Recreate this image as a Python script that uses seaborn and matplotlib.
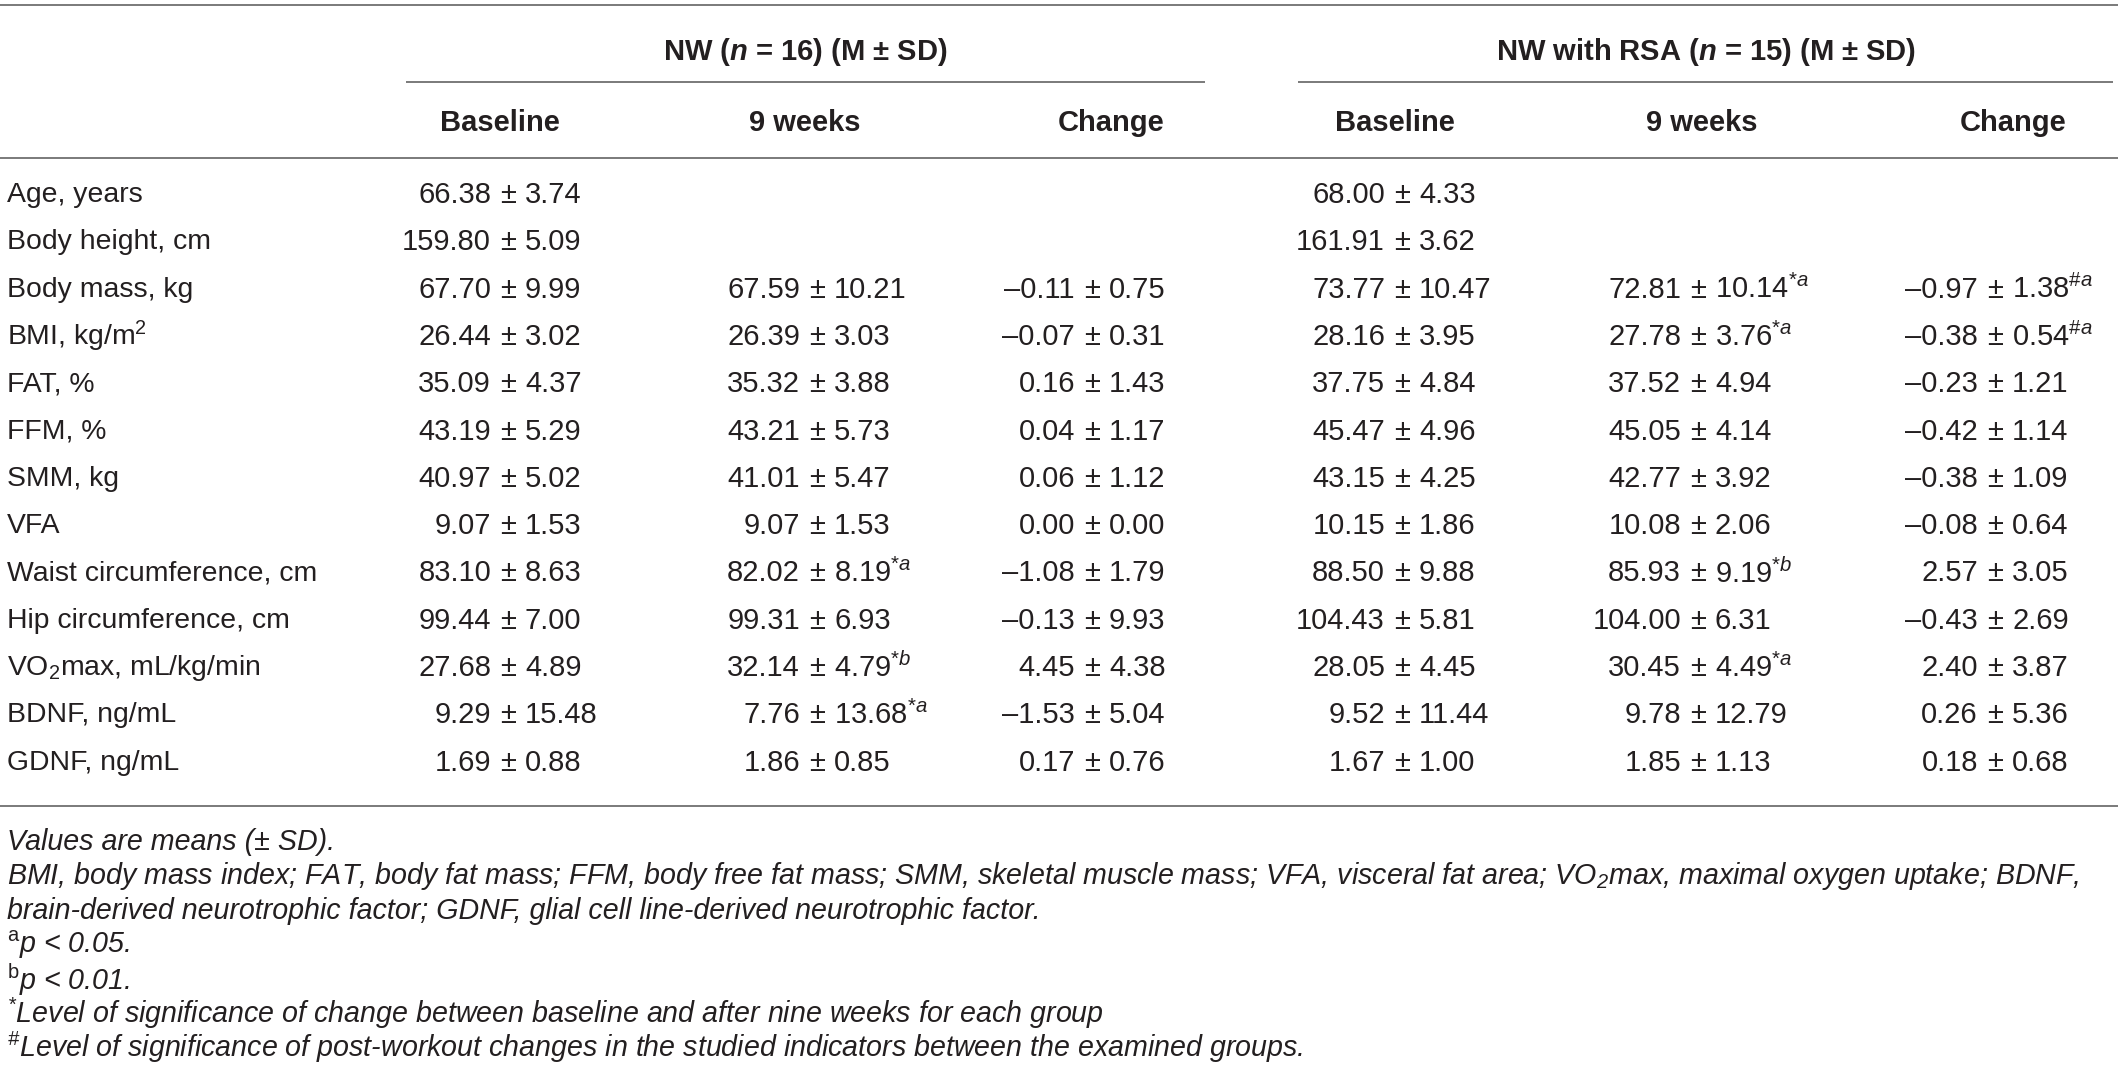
import matplotlib
matplotlib.use("Agg")
import matplotlib.pyplot as plt
import seaborn as sns

sns.set_theme(style="white")
FONT = ["Liberation Sans", "DejaVu Sans"]
plt.rcParams["font.family"] = FONT
plt.rcParams["mathtext.fontset"] = "custom"
plt.rcParams["mathtext.rm"] = "Liberation Sans"
plt.rcParams["mathtext.it"] = "Liberation Sans:italic"
plt.rcParams["mathtext.bf"] = "Liberation Sans:bold"
plt.rcParams["mathtext.bfit"] = "Liberation Sans:bold:italic"
plt.rcParams["mathtext.default"] = "regular"

# ---------------- data ----------------
row_labels = ["Age, years", "Body height, cm", "Body mass, kg", "BMI, kg/m$^{2}$",
              "FAT, %", "FFM, %", "SMM, kg", "VFA", "Waist circumference, cm",
              "Hip circumference, cm", "VO$_{2}$max, mL/kg/min", "BDNF, ng/mL",
              "GDNF, ng/mL"]

group_titles = [r"NW ($\mathbfit{n}$ = 16) (M ± SD)",
                r"NW with RSA ($\mathbfit{n}$ = 15) (M ± SD)"]
col_titles = ["Baseline", "9 weeks", "Change", "Baseline", "9 weeks", "Change"]

nw_base_m = [66.38, 159.80, 67.70, 26.44, 35.09, 43.19, 40.97, 9.07, 83.10, 99.44, 27.68, 9.29, 1.69]
nw_base_sd = [3.74, 5.09, 9.99, 3.02, 4.37, 5.29, 5.02, 1.53, 8.63, 7.00, 4.89, 15.48, 0.88]
nw_base_sig = [""] * 13

nw_9w_m = [None, None, 67.59, 26.39, 35.32, 43.21, 41.01, 9.07, 82.02, 99.31, 32.14, 7.76, 1.86]
nw_9w_sd = [None, None, 10.21, 3.03, 3.88, 5.73, 5.47, 1.53, 8.19, 6.93, 4.79, 13.68, 0.85]
nw_9w_sig = ["", "", "", "", "", "", "", "", "*a", "", "*b", "*a", ""]

nw_chg_m = [None, None, -0.11, -0.07, 0.16, 0.04, 0.06, 0.00, -1.08, -0.13, 4.45, -1.53, 0.17]
nw_chg_sd = [None, None, 0.75, 0.31, 1.43, 1.17, 1.12, 0.00, 1.79, 9.93, 4.38, 5.04, 0.76]
nw_chg_sig = [""] * 13

rsa_base_m = [68.00, 161.91, 73.77, 28.16, 37.75, 45.47, 43.15, 10.15, 88.50, 104.43, 28.05, 9.52, 1.67]
rsa_base_sd = [4.33, 3.62, 10.47, 3.95, 4.84, 4.96, 4.25, 1.86, 9.88, 5.81, 4.45, 11.44, 1.00]
rsa_base_sig = [""] * 13

rsa_9w_m = [None, None, 72.81, 27.78, 37.52, 45.05, 42.77, 10.08, 85.93, 104.00, 30.45, 9.78, 1.85]
rsa_9w_sd = [None, None, 10.14, 3.76, 4.94, 4.14, 3.92, 2.06, 9.19, 6.31, 4.49, 12.79, 1.13]
rsa_9w_sig = ["", "", "*a", "*a", "", "", "", "", "*b", "", "*a", "", ""]

rsa_chg_m = [None, None, -0.97, -0.38, -0.23, -0.42, -0.38, -0.08, 2.57, -0.43, 2.40, 0.26, 0.18]
rsa_chg_sd = [None, None, 1.38, 0.54, 1.21, 1.14, 1.09, 0.64, 3.05, 2.69, 3.87, 5.36, 0.68]
rsa_chg_sig = ["", "", "#a", "#a", "", "", "", "", "", "", "", "", ""]

footnotes = [
    "Values are means (± SD).",
    "BMI, body mass index; FAT, body fat mass; FFM, body free fat mass; SMM, skeletal muscle mass; "
    "VFA, visceral fat area; VO$_{2}$max, maximal oxygen uptake; BDNF,",
    "brain-derived neurotrophic factor; GDNF, glial cell line-derived neurotrophic factor.",
    r"$^{\mathrm{a}}$p < 0.05.",
    r"$^{\mathrm{b}}$p < 0.01.",
    r"$^{*}$Level of significance of change between baseline and after nine weeks for each group",
    r"$^{\#}$Level of significance of post-workout changes in the studied indicators between the examined groups.",
]

columns = [
    (nw_base_m, nw_base_sd, nw_base_sig),
    (nw_9w_m, nw_9w_sd, nw_9w_sig),
    (nw_chg_m, nw_chg_sd, nw_chg_sig),
    (rsa_base_m, rsa_base_sd, rsa_base_sig),
    (rsa_9w_m, rsa_9w_sd, rsa_9w_sig),
    (rsa_chg_m, rsa_chg_sd, rsa_chg_sig),
]

# ---------------- layout ----------------
W, H = 2118, 1070
fig = plt.figure(figsize=(W / 100, H / 100), dpi=100)
ax = fig.add_axes([0, 0, 1, 1])
ax.set_xlim(0, W)
ax.set_ylim(H, 0)
ax.axis("off")

FS = 21
LINE_C = "#7a7a7a"
TXT_C = "#231f20"

pm_x = [508, 817, 1092, 1402, 1698, 1995]
head_x = [500, 805, 1111, 1395, 1702, 2013]
group_x = [805, 1706]
group_line = [(406, 1205), (1298, 2113)]
PM_GAP = 17

row_y0, row_dy = 195, 47.3

# rules
for y in (5, 158, 806):
    ax.plot([0, W], [y, y], color=LINE_C, lw=1.4, solid_capstyle="butt")
for x0, x1 in group_line:
    ax.plot([x0, x1], [82, 82], color=LINE_C, lw=1.4, solid_capstyle="butt")

# headers
for gx, gt in zip(group_x, group_titles):
    ax.text(gx, 52, gt, ha="center", va="center", fontsize=FS, fontweight="bold", color=TXT_C)
for hx, ht in zip(head_x, col_titles):
    ax.text(hx, 123, ht, ha="center", va="center", fontsize=FS, fontweight="bold", color=TXT_C)

def fmt(v):
    s = f"{abs(v):.2f}"
    return ("–" + s) if v < 0 else s

# body
for i, lab in enumerate(row_labels):
    y = row_y0 + i * row_dy
    ax.text(7, y, lab, ha="left", va="center", fontsize=20.4, color=TXT_C)
    for (ms, sds, sigs), px in zip(columns, pm_x):
        m, sd, sig = ms[i], sds[i], sigs[i]
        if m is None:
            continue
        ax.text(px - PM_GAP, y, fmt(m), ha="right", va="center", fontsize=FS, color=TXT_C)
        ax.text(px, y, "±", ha="center", va="center", fontsize=FS, color=TXT_C)
        right = fmt(sd)
        if sig:
            sym = r"\#" if sig[0] == "#" else "*"
            right += r"$^{" + sym + r"\mathit{" + sig[1] + "}}$"
        ax.text(px + PM_GAP, y, right, ha="left", va="center", fontsize=FS, color=TXT_C)

# footnotes
fy0, fdy = 842, 34.3
for j, fn in enumerate(footnotes):
    ax.text(7, fy0 + j * fdy, fn, ha="left", va="center", fontsize=20.6,
            style="italic", color=TXT_C)

fig.savefig("out.png", dpi=100, facecolor="white")
